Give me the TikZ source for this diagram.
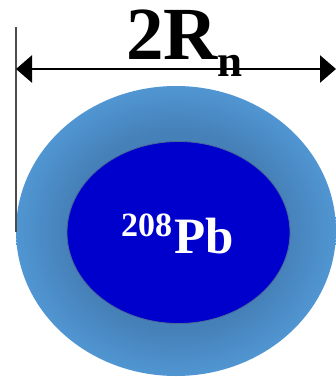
\documentclass[tikz,border=0pt]{standalone}
\usepackage{fontspec}
\setmainfont{Liberation Serif}
\usepackage{tikz}
\usetikzlibrary{positioning,arrows.meta,shapes}
\definecolor{shellblue}{HTML}{5096D2}
\definecolor{shelldark}{HTML}{4680B8}
\definecolor{coreblue}{HTML}{0000CC}
\definecolor{coreedge}{HTML}{4A6A9A}
\pgfdeclareradialshading{shellshade}{\pgfpoint{0bp}{0bp}}{%
  color(0bp)=(shelldark); color(17bp)=(shelldark); color(25bp)=(shellblue); color(50bp)=(shellblue)}

\begin{document}
\begin{tikzpicture}[x=1pt, y=-1pt,
      shell/.style={ellipse, shading=shellshade, minimum width=320, minimum height=290, inner sep=0},
      core/.style={ellipse, fill=coreblue, draw=coreedge, line width=0.8, minimum width=223, minimum height=182, inner sep=0},
      lbl/.style={anchor=base west, inner sep=0, font=\bfseries},
      dim/.style={{Triangle[length=16, width=27]}-{Triangle[length=16, width=27]}, line width=2.6},
      guide/.style={draw=black!70, line width=2}
    ]
      \useasboundingbox (0,0) rectangle (336,377);
      \node[shell] (nucleus) at (176,231) {};
      \node[core]  (pb)      at (178.5,232.5) {};
      % dimension line
      \coordinate (gtop) at (15.5,27);
      \coordinate (gbot) at (15.5,232);
      \draw[guide] (gtop) -- (gbot);
      \coordinate (dl) at (16,69);
      \coordinate (dr) at (336,69);
      \draw[dim] (dl) -- (dr);
      \node[lbl, font=\fontsize{75}{75}\selectfont\bfseries] (radius) at (126,60) {2R};
      \node[lbl, font=\fontsize{45}{45}\selectfont\bfseries] (sub) at (217,77) {n};
      % label of the core
      \node[lbl, text=white, font=\fontsize{34}{34}\selectfont\bfseries] (mass) at (121,236) {208};
      \node[lbl, text=white, font=\fontsize{51}{51}\selectfont\bfseries] (elem) at (174,253) {Pb};
    \end{tikzpicture}
\end{document}
